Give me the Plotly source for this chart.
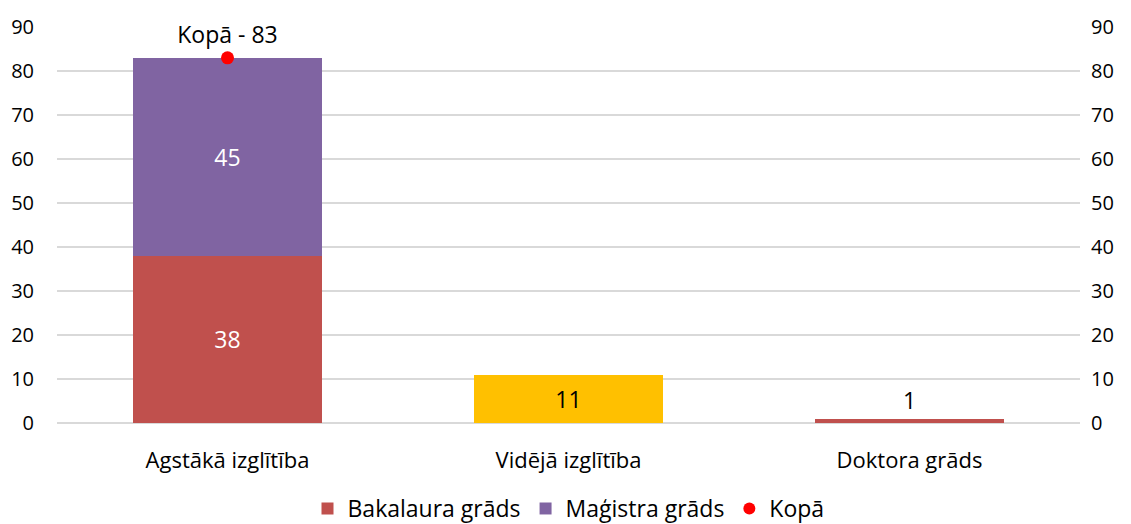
import plotly.graph_objects as go

categories = ["Agstākā izglītība", "Vidējā izglītība", "Doktora grāds"]
bakalaura = [38, 11, 1]
magistra = [45, None, None]
kopa = [83, None, None]
kopa_labels = ["Kopā - 83", "", ""]
bak_colors = ["#C0504D", "#FFC000", "#C0504D"]
bak_text_colors = ["white", "black", "black"]
bak_text_pos = ["inside", "inside", "outside"]

FONT = "Open Sans"

fig = go.Figure()
fig.add_trace(go.Bar(
    x=categories, y=bakalaura, name="Bakalaura grāds",
    marker=dict(color=bak_colors, line_width=0),
    text=[str(v) for v in bakalaura], textposition=bak_text_pos,
    insidetextanchor="middle",
    textfont=dict(color=bak_text_colors, size=23, family=FONT),
    outsidetextfont=dict(color="black", size=23, family=FONT),
    cliponaxis=False,
))
fig.add_trace(go.Bar(
    x=categories, y=magistra, name="Maģistra grāds",
    marker=dict(color="#8064A2", line_width=0),
    text=[str(v) if v is not None else "" for v in magistra], textposition="inside",
    insidetextanchor="middle",
    textfont=dict(color="white", size=23, family=FONT),
))
fig.add_trace(go.Scatter(
    x=categories, y=kopa, name="Kopā", mode="markers+text",
    marker=dict(color="#FF0000", size=13),
    text=kopa_labels, textposition="top center",
    textfont=dict(color="black", size=23, family=FONT),
    cliponaxis=False,
))
fig.add_trace(go.Scatter(
    x=categories, y=[0, 0, 0], yaxis="y2", mode="markers",
    marker=dict(opacity=0), showlegend=False, hoverinfo="skip",
))

fig.update_layout(
    width=1123, height=516,
    barmode="stack", bargap=0.443,
    plot_bgcolor="white", paper_bgcolor="white",
    margin=dict(l=49, r=51, t=19, b=101, autoexpand=False),
    font=dict(family=FONT, size=20, color="black"),
    xaxis=dict(showline=False, ticks="", tickfont=dict(size=22), automargin=False,
               ticklabelstandoff=22),
    yaxis=dict(range=[0, 90], dtick=10, showgrid=True, gridcolor="#D9D9D9",
               gridwidth=1.5, zeroline=True, zerolinecolor="#D9D9D9", zerolinewidth=1.5,
               ticks="", ticklabelstandoff=22, tickfont=dict(size=20), automargin=False),
    yaxis2=dict(range=[0, 90], dtick=10, overlaying="y", side="right", showgrid=False,
                zeroline=False, ticks="", ticklabelstandoff=10, tickfont=dict(size=20),
                automargin=False),
    legend=dict(orientation="h", x=0.5, xanchor="center", yref="container",
                y=0.03, yanchor="middle",
                font=dict(size=23), itemsizing="constant", traceorder="normal",
                itemwidth=30),
)

fig.write_html("out.html")
